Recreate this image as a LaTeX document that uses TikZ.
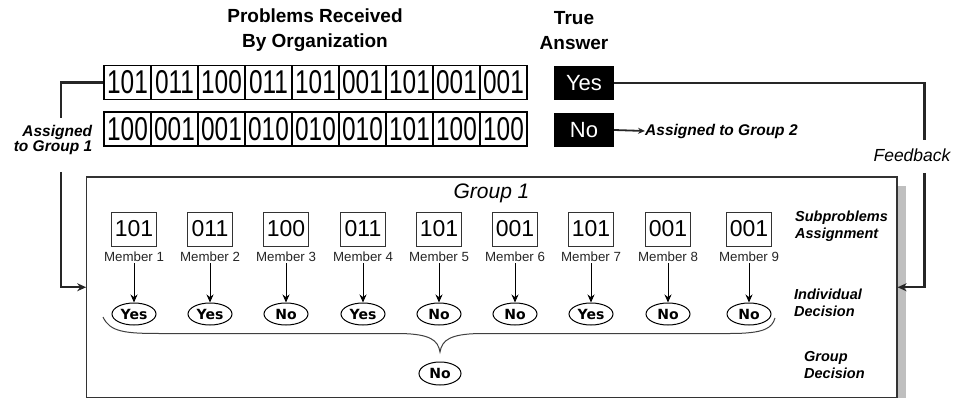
\documentclass[tikz,border=0pt]{standalone}
\usepackage{fontspec}
\usepackage{graphicx}
\setmainfont{Liberation Sans}
\newfontfamily\ellfont{DejaVu Sans}
\usetikzlibrary{arrows.meta,shapes.geometric}
\newcommand\fsz[2]{\fontsize{#1}{#2}\selectfont}
\newcommand\nar[1]{\scalebox{0.74}[1]{#1}}
\tikzset{
  cell/.style={draw=black, line width=1.6pt, minimum width=47pt, minimum height=34pt, inner sep=0pt, font=\fsz{33}{33}},
  ans/.style={fill=black, text=white, minimum width=60pt, minimum height=34.5pt, inner sep=0pt, font=\fsz{22}{22}},
  mbox/.style={draw=black!80, line width=0.9pt, minimum width=45pt, minimum height=34pt, inner sep=0pt, font=\fsz{23}{23}},
  mlabel/.style={font=\fsz{13.3}{14}, text=black!85, inner sep=1pt},
  dec/.style={ellipse, draw=black, line width=1pt, minimum width=44pt, minimum height=22pt, inner sep=0pt, font=\ellfont\bfseries\fsz{14}{14}},
  conn/.style={draw=black!85, line width=2.2pt},
  arr/.style={-{Stealth[length=9pt,width=8pt]}},
  marr/.style={draw=black, line width=0.9pt, -{Stealth[length=8pt,width=7pt]}},
  side/.style={font=\bfseries\itshape\fsz{14.5}{17}, align=left, inner sep=0pt, anchor=west},
  title/.style={font=\bfseries\fsz{19}{25}, align=center, inner sep=0pt}
}
\begin{document}
\begin{tikzpicture}[x=1pt,y=-1pt]
\useasboundingbox (0,0) rectangle (955,398);

% titles
\node[title] (t1) at (315,30.5) {Problems Received\\By Organization};
\node[title] (t2) at (574,30.5) {True\\Answer};

% problem rows
\foreach \v [count=\i] in {101,011,100,011,101,001,101,001,001}
  \node[cell] (c\i) at ({104+47*(\i-0.5)},82.5) {\nar{\v}};
\foreach \v [count=\i] in {100,001,001,010,010,010,101,100,100}
  \node[cell] (d\i) at ({104+47*(\i-0.5)},129) {\nar{\v}};

% true answers
\node[ans] (yes) at (584,83) {Yes};
\node[ans] (no) at (584,130) {No};
\node[font=\bfseries\itshape\fsz{15.5}{16}, inner sep=0pt, anchor=west] (g2) at (645,131) {Assigned to Group 2};
\draw[draw=black!85, line width=1.8pt, -{Stealth[length=7pt,width=6pt]}] (no.east) -- (g2.west);

% group box
\fill[black!25] (897,186) rectangle (905.5,398);
\node[draw=black!80, line width=1.1pt, fill=white, minimum width=810.3pt, minimum height=220.5pt, inner sep=0pt] (group) at (491.85,287.25) {};
\node[font=\itshape\fsz{21}{21}, inner sep=0pt] (g1) at (491.5,193) {Group 1};

% left connector
\coordinate (a1) at (60.7,118);
\coordinate (a2) at (60.7,172);
\draw[conn] (c1.west) -| (a1);
\draw[conn, arr] (a2) |- (group.west);
\node[font=\bfseries\itshape\fsz{15.5}{15}, align=right, inner sep=0pt] (ag1) at (53,139.5) {Assigned\\to Group 1};

% feedback connector
\coordinate (f1) at (924.5,140);
\coordinate (f2) at (924.5,173);
\draw[conn] (yes.east) -| (f1);
\draw[conn, arr] (f2) |- (group.east);
\node[font=\itshape\fsz{17.5}{18}, inner sep=0pt] (fb) at (912,155) {Feedback};

% members
\foreach \x/\v/\d [count=\i] in {134/101/Yes,210/011/Yes,286/100/No,363/011/Yes,439/101/No,515/001/No,591/101/Yes,668/001/No,749/001/No}{
  \node[mbox] (m\i) at (\x,229) {\v};
  \node[mlabel] (l\i) at (\x,257) {Member \i};
  \node[dec] (e\i) at (\x,314) {\d};
  \draw[marr] (l\i.south) -- (e\i.north);
}

% brace
\coordinate (bl) at (103,317);
\coordinate (bt) at (440,352);
\coordinate (br) at (775,318);
\draw[draw=black!75, line width=1pt] (bl) .. controls (110,332) and (125,333.5) .. (160,333.5) -- (400,333.5) .. controls (430,334) and (438,340) .. (bt)
  .. controls (442,340) and (450,334) .. (480,333.5) -- (730,333.5) .. controls (765,333.5) and (772,328) .. (br);

\node[dec, minimum width=42pt, minimum height=23pt] (gd) at (440,373.5) {No};

% side labels
\node[side] (s1) at (795,226.7) {Subproblems\\Assignment};
\node[side] (s2) at (794,303.3) {Individual\\Decision};
\node[side] (s3) at (804,365.5) {Group\\Decision};
\end{tikzpicture}
\end{document}
